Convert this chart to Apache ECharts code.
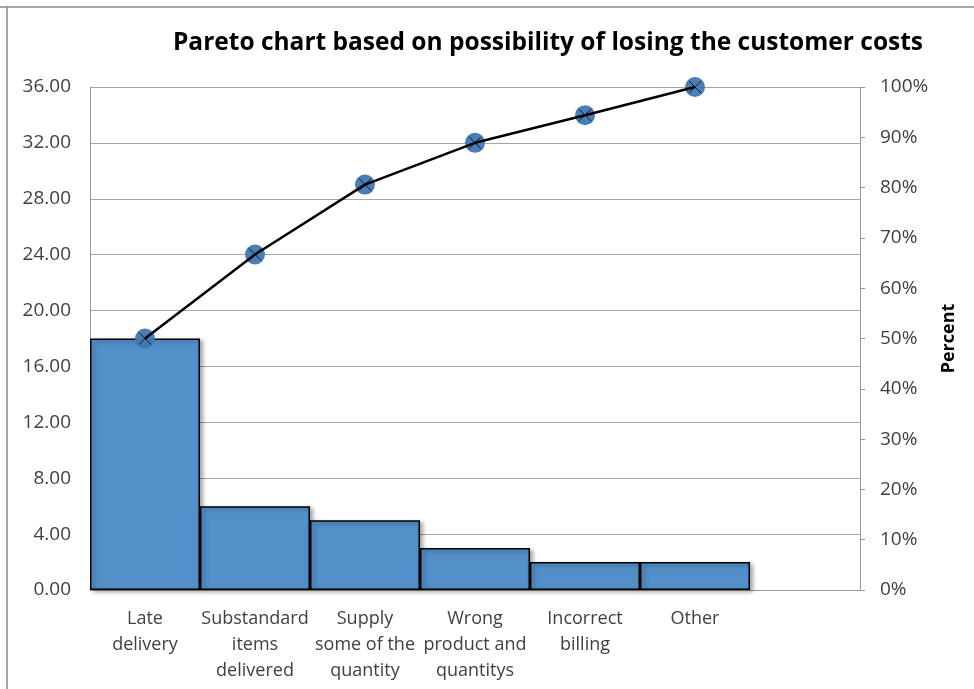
<!DOCTYPE html>
<html>
<head>
<meta charset="utf-8">
<script src="https://cdn.jsdelivr.net/npm/echarts@6/dist/echarts.min.js"></script>
<style>html,body{margin:0;padding:0;background:#fff}#c{width:974px;height:689px}</style>
</head>
<body>
<div id="c"></div>
<script>
var categories = ['Late\ndelivery', 'Substandard\nitems\ndelivered', 'Supply\nsome of the\nquantity', 'Wrong\nproduct and\nquantitys', 'Incorrect\nbilling', 'Other', ''];
var costs = [18, 6, 5, 3, 2, 2, null];
var cumulativePercent = [50.0, 66.7, 80.6, 88.9, 94.4, 100.0, null];
var leftTicks = { min: 0, max: 36, interval: 4 };
var rightTicks = { min: 0, max: 100, interval: 10 };

var FONT = '"Open Sans", Lato, sans-serif';
var chart = echarts.init(document.getElementById('c'));
chart.setOption({
  animation: false,
  backgroundColor: '#fff',
  title: {
    text: 'Pareto chart based on possibility of losing the customer costs',
    left: 543, top: 26, textAlign: 'center',
    textStyle: { fontFamily: FONT, fontSize: 24.5, fontWeight: 'bold', color: '#000' }
  },
  graphic: [
    { type: 'line', shape: { x1: 0, y1: 7, x2: 974, y2: 7 }, style: { stroke: '#888', lineWidth: 1.5 } },
    { type: 'line', shape: { x1: 7, y1: 7, x2: 7, y2: 689 }, style: { stroke: '#888', lineWidth: 1.5 } }
  ],
  grid: { left: 90, right: 114, top: 87, bottom: 99 },
  xAxis: {
    type: 'category', data: categories,
    axisLine: { lineStyle: { color: '#999', width: 1 } },
    axisTick: { show: false },
    axisLabel: { interval: 0, fontFamily: FONT, fontSize: 18, color: '#404040', lineHeight: 26, margin: 16 }
  },
  yAxis: [
    {
      type: 'value', min: leftTicks.min, max: leftTicks.max, interval: leftTicks.interval,
      axisLine: { show: true, lineStyle: { color: '#999' } },
      axisTick: { show: false },
      splitLine: { lineStyle: { color: '#a6a6a6', width: 1 } },
      axisLabel: { fontFamily: FONT, fontSize: 19, color: '#404040', margin: 19, formatter: function (v) { return v.toFixed(2); } }
    },
    {
      type: 'value', min: rightTicks.min, max: rightTicks.max, interval: rightTicks.interval, position: 'right',
      name: 'Percent', nameLocation: 'middle', nameGap: 80,
      nameTextStyle: { fontFamily: FONT, fontSize: 18, fontWeight: 'bold', color: '#000' },
      axisLine: { show: true, lineStyle: { color: '#999' } },
      axisTick: { show: true, length: 5, lineStyle: { color: '#999' } },
      splitLine: { show: false },
      axisLabel: { fontFamily: FONT, fontSize: 19, color: '#404040', margin: 20, formatter: '{value}%' }
    }
  ],
  series: [
    {
      type: 'bar', data: costs, barCategoryGap: '0%', yAxisIndex: 0,
      itemStyle: { color: '#5390c9', borderColor: '#000', borderWidth: 1.5,
        shadowColor: 'rgba(0,0,0,0.35)', shadowBlur: 4, shadowOffsetX: 3, shadowOffsetY: 2 }
    },
    {
      type: 'scatter', data: cumulativePercent, yAxisIndex: 1, symbol: 'circle', symbolSize: 20,
      itemStyle: { color: '#3f78b2', opacity: 0.95 }, z: 3
    },
    {
      type: 'line', data: cumulativePercent, yAxisIndex: 1, showSymbol: false,
      lineStyle: { color: '#000', width: 2.5 }, z: 4
    },
    {
      type: 'scatter', data: cumulativePercent, yAxisIndex: 1,
      symbol: 'path://M0,0L10,10M10,0L0,10', symbolSize: 12,
      itemStyle: { color: 'transparent', borderColor: '#000', borderWidth: 1 }, z: 5
    }
  ]
});
</script>
</body>
</html>
